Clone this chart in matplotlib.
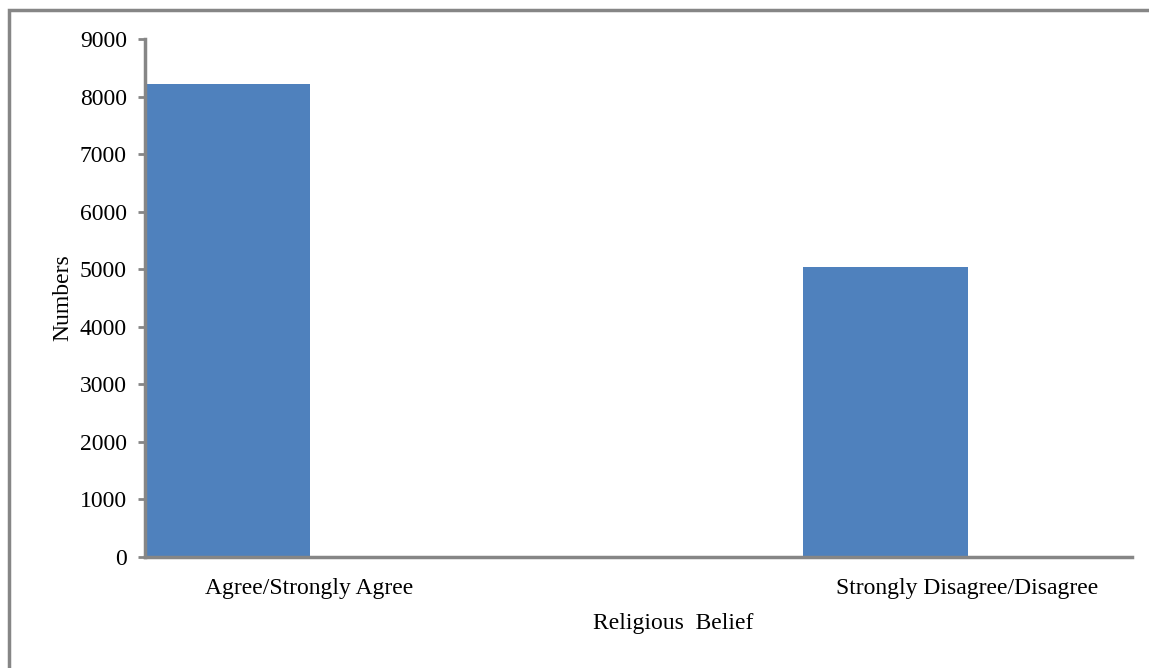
import matplotlib.pyplot as plt
from matplotlib.patches import Rectangle

categories = ["Agree/Strongly Agree", "Strongly Disagree/Disagree"]
values = [8220, 5040]
yticks = [0, 1000, 2000, 3000, 4000, 5000, 6000, 7000, 8000, 9000]

plt.rcParams['font.family'] = ['Liberation Serif', 'DejaVu Serif']

fig = plt.figure(figsize=(11.49, 6.68), dpi=100)
ax = fig.add_axes([145 / 1149, 1 - 557 / 668, 987 / 1149, 518 / 668])

# bars sit at the left of each category slot, labels at the bar's right edge
bar_pos = [0.5, 4.5]
label_pos = [1, 5]
ax.bar(bar_pos, values, width=1.0, color='#4f81bd')

ax.set_xlim(0, 6)
ax.set_ylim(0, 9000)
ax.set_yticks(yticks)
ax.set_yticklabels([str(v) for v in yticks], fontsize=17)
ax.set_xticks(label_pos)
ax.set_xticklabels(categories, fontsize=17)
ax.tick_params(axis='x', length=0, pad=15)
ax.tick_params(axis='y', length=5, width=2, color='#868686', pad=8)

for s in ['top', 'right']:
    ax.spines[s].set_visible(False)
for s in ['left', 'bottom']:
    ax.spines[s].set_color('#868686')
    ax.spines[s].set_linewidth(2.5)

ax.set_ylabel("Numbers", fontsize=17)
ax.yaxis.set_label_coords(-0.073, 0.5)
ax.set_xlabel("Religious  Belief", fontsize=17)
ax.xaxis.set_label_coords(0.535, -0.108)

# outer chart frame (only top and left edges visible)
fig.add_artist(Rectangle((9 / 1149, -0.1), 1.2, 1.1 - 10 / 668, transform=fig.transFigure,
                         fill=False, edgecolor='#868686', linewidth=2.5))

fig.savefig("out.png", dpi=100)
